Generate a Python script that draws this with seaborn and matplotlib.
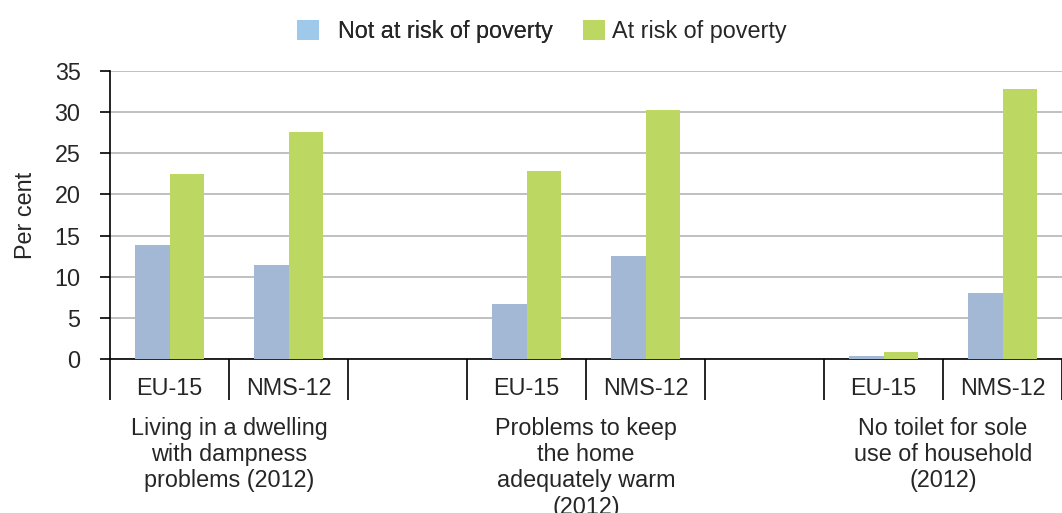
import matplotlib
matplotlib.use("Agg")
import matplotlib.pyplot as plt
import seaborn as sns
import pandas as pd
from matplotlib.patches import Patch

# ---- data ----
slot_keys = ["d_EU", "d_NMS", "gap1", "w_EU", "w_NMS", "gap2", "t_EU", "t_NMS"]
tick_labels = ["EU-15", "NMS-12", "", "EU-15", "NMS-12", "", "EU-15", "NMS-12"]
bar_keys = ["d_EU", "d_NMS", "w_EU", "w_NMS", "t_EU", "t_NMS"]
not_at_risk = [13.9, 11.4, 6.7, 12.5, 0.4, 8.0]
at_risk = [22.5, 27.6, 22.8, 30.3, 0.85, 32.8]
series = ["Not at risk of poverty", "At risk of poverty"]
group_labels = ["Living in a dwelling\nwith dampness\nproblems (2012)",
                "Problems to keep\nthe home\nadequately warm\n(2012)",
                "No toilet for sole\nuse of household\n(2012)"]
group_centers = [0.5, 3.5, 6.5]

df = pd.DataFrame({
    "slot": bar_keys * 2,
    "value": not_at_risk + at_risk,
    "series": [series[0]] * len(bar_keys) + [series[1]] * len(bar_keys),
})

bar_colors = ["#a3b8d5", "#bdd862"]
legend_colors = ["#9fc9eb", "#bdd862"]

sns.set_style("white")
plt.rcParams["font.family"] = ["Liberation Sans", "DejaVu Sans"]
FS = 16.8

fig = plt.figure(figsize=(10.62, 5.13), dpi=100)
ax = fig.add_axes([110 / 1062, 1 - 359 / 513, 1 - 110 / 1062, (359 - 71) / 513])

sns.barplot(data=df, x="slot", y="value", hue="series", order=slot_keys,
            hue_order=series, palette=bar_colors, width=0.575, dodge=True,
            saturation=1, errorbar=None, legend=False, ax=ax, zorder=3,
            linewidth=0, edgecolor="none")

ax.set_ylim(0, 35)
ax.set_yticks(range(0, 36, 5))
ax.set_xlim(-0.5, (1062 - 110) / 120 - 0.5)
ax.yaxis.grid(True, color="#c0c0c0", linewidth=1.4, zorder=0)
ax.xaxis.grid(False)
ax.set_axisbelow(True)

for s in ["top", "right"]:
    ax.spines[s].set_visible(False)
for s in ["left", "bottom"]:
    ax.spines[s].set_color("black")
    ax.spines[s].set_linewidth(1.2)

ax.set_xticks(range(len(slot_keys)))
ax.set_xticklabels(tick_labels, fontsize=FS)
ax.set_xticks([i - 0.5 for i in range(len(slot_keys) + 1)], minor=True)
ax.tick_params(axis="x", which="both", bottom=True)
ax.tick_params(axis="x", which="major", length=0, pad=13)
ax.tick_params(axis="x", which="minor", length=29.5, width=1.2, color="black", direction="out")
ax.tick_params(axis="y", which="major", left=True, length=7.2, width=1.2, color="black",
               labelsize=FS, pad=14)
ax.set_xlabel("")
ax.set_ylabel("Per cent", fontsize=FS)
ax.yaxis.set_label_coords(-0.0765, 0.5)

for cx, lab in zip(group_centers, group_labels):
    ax.text(cx, -0.2, lab, transform=ax.get_xaxis_transform(), ha="center", va="top",
            fontsize=FS, linespacing=1.19)

fs_px = FS * 100 / 72
common = dict(loc="upper left", frameon=False, fontsize=FS, borderpad=0, borderaxespad=0,
              handlelength=22 / fs_px, handleheight=22 / fs_px)
leg1 = fig.legend([Patch(facecolor=legend_colors[0], edgecolor="none")], [series[0]],
                  bbox_to_anchor=(297 / 1062, 1 - 20 / 513), handletextpad=19 / fs_px, **common)
fig.add_artist(leg1)
fig.legend([Patch(facecolor=legend_colors[1], edgecolor="none")], [series[1]],
           bbox_to_anchor=(583 / 1062, 1 - 20 / 513), handletextpad=7 / fs_px, **common)

fig.savefig("out.png", dpi=100)
